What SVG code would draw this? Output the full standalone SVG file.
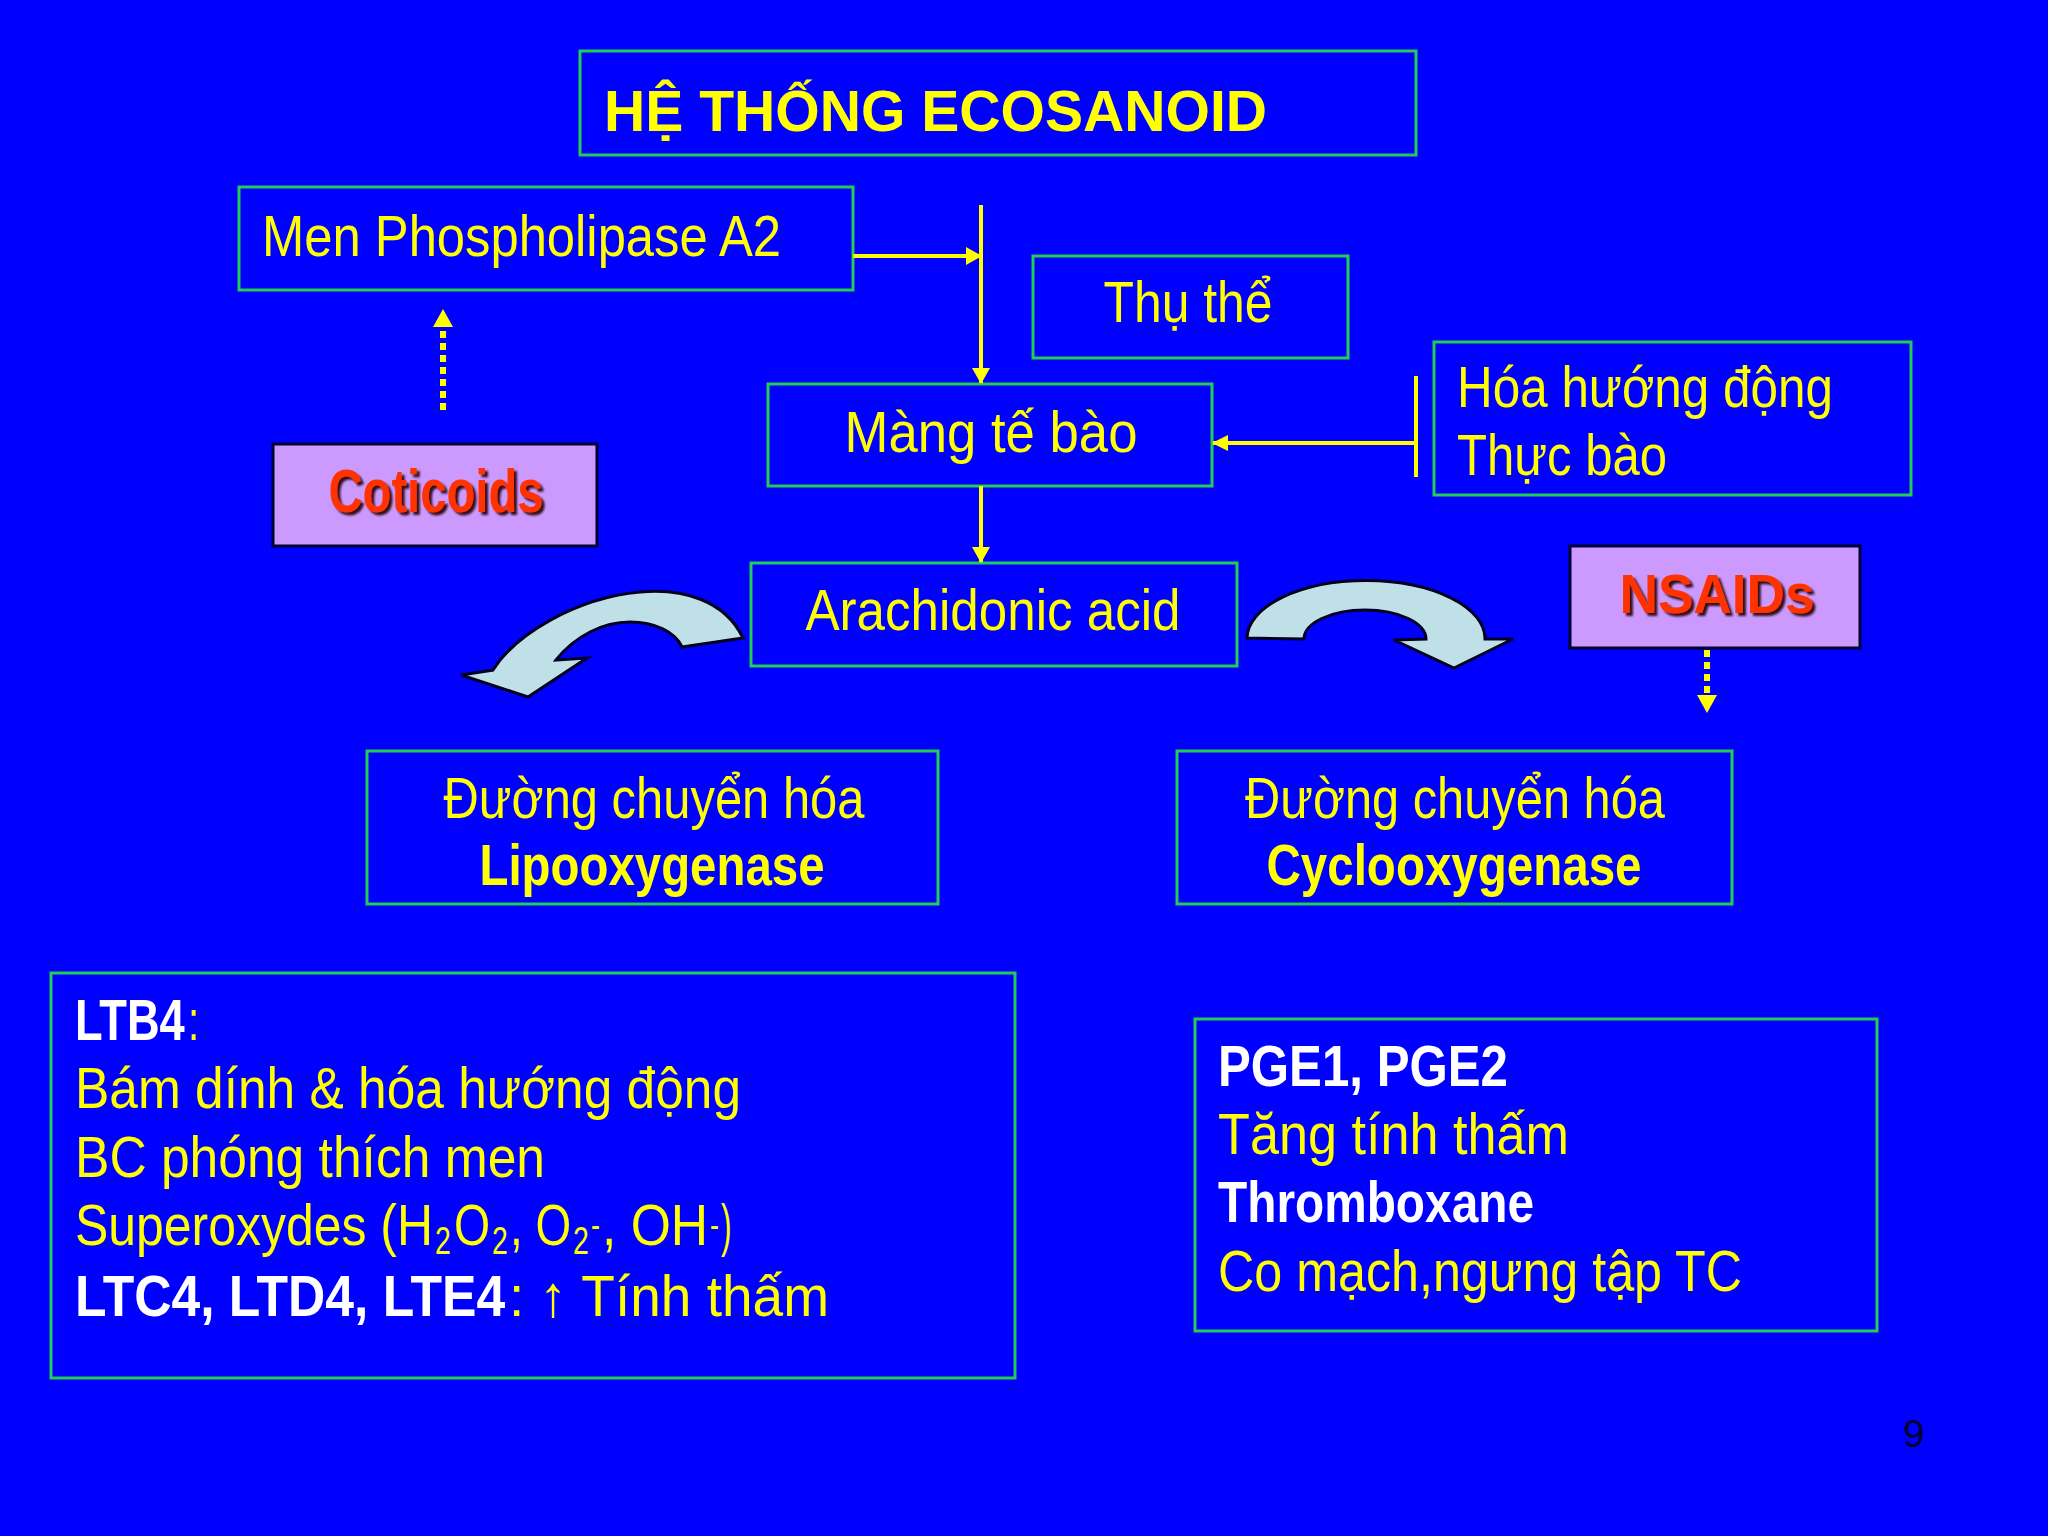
<svg xmlns="http://www.w3.org/2000/svg" width="2048" height="1536" viewBox="0 0 2048 1536">
<defs>
<style>
.box{fill:none;stroke:#22CC55;stroke-width:3}
.lav{fill:#CC99FF;stroke:#000033;stroke-width:3}
.t{font-family:"Liberation Sans",Arial,sans-serif;font-size:58px;fill:#FFFF00}
.b{font-weight:bold}
.w{fill:#FFFFFF;font-weight:bold}
.sub{font-size:38px}
.sup{font-size:36px}
.red{font-family:"Liberation Sans",Arial,sans-serif;font-weight:bold;fill:#FF3300}
.conn{stroke:#FFFF00;stroke-width:4;fill:none}
.dot{stroke:#FFFF00;stroke-width:6;fill:none;stroke-dasharray:7 5}
.curve{fill:#BFE0E6;stroke:#000022;stroke-width:3;stroke-linejoin:miter}
</style>
<marker id="ah" viewBox="0 0 16 18" refX="15" refY="9" markerWidth="16" markerHeight="18" markerUnits="userSpaceOnUse" orient="auto">
<path d="M0,0 L16,9 L0,18 Z" fill="#FFFF00"/>
</marker>
<marker id="ahs" viewBox="0 0 16 16" refX="15" refY="8" markerWidth="16" markerHeight="16" markerUnits="userSpaceOnUse" orient="auto">
<path d="M0,0 L16,8 L0,16 Z" fill="#FFFF00"/>
</marker>
<marker id="ahd" viewBox="0 0 18 20" refX="2" refY="10" markerWidth="18" markerHeight="20" markerUnits="userSpaceOnUse" orient="auto">
<path d="M0,0 L18,10 L0,20 Z" fill="#FFFF00"/>
</marker>
<filter id="sh" x="-10%" y="-10%" width="130%" height="140%">
<feDropShadow dx="3" dy="3" stdDeviation="0.8" flood-color="#220000" flood-opacity="0.9"/>
</filter>
</defs>
<rect x="0" y="0" width="2048" height="1536" fill="#0000FF"/>

<g id="title">
<rect class="box" x="580" y="51" width="836" height="104"/>
<text class="t b" x="604" y="131" font-size="74" textLength="663" lengthAdjust="spacingAndGlyphs">HỆ THỐNG ECOSANOID</text>
</g>

<g id="phospholipase">
<rect class="box" x="239" y="187" width="614" height="103"/>
<text class="t" x="262" y="256" font-size="61" textLength="519" lengthAdjust="spacingAndGlyphs">Men Phospholipase A2</text>
</g>

<g id="thu-the">
<rect class="box" x="1033" y="256" width="315" height="102"/>
<text class="t" x="1188" y="322" text-anchor="middle" textLength="169" lengthAdjust="spacingAndGlyphs">Thụ thể</text>
</g>

<g id="mang-te-bao">
<rect class="box" x="768" y="384" width="444" height="102"/>
<text class="t" x="991" y="452" text-anchor="middle" textLength="293" lengthAdjust="spacingAndGlyphs">Màng tế bào</text>
</g>

<g id="hoa-huong-dong">
<rect class="box" x="1434" y="342" width="477" height="153"/>
<text class="t" x="1457" y="407" textLength="376" lengthAdjust="spacingAndGlyphs">Hóa hướng động</text>
<text class="t" x="1457" y="475" textLength="210" lengthAdjust="spacingAndGlyphs">Thực bào</text>
</g>

<g id="coticoids">
<rect class="lav" x="273" y="444" width="324" height="102"/>
<text class="red" x="436" y="512" font-size="61" text-anchor="middle" textLength="215" lengthAdjust="spacingAndGlyphs" filter="url(#sh)">Coticoids</text>
</g>

<g id="arachidonic">
<rect class="box" x="751" y="563" width="486" height="103"/>
<text class="t" x="993" y="630" text-anchor="middle" textLength="375" lengthAdjust="spacingAndGlyphs">Arachidonic acid</text>
</g>

<g id="nsaids">
<rect class="lav" x="1570" y="546" width="290" height="102"/>
<text class="red" x="1717" y="613" font-size="56" text-anchor="middle" textLength="195" lengthAdjust="spacingAndGlyphs" filter="url(#sh)">NSAIDs</text>
</g>

<g id="lipooxygenase">
<rect class="box" x="367" y="751" width="571" height="153"/>
<text class="t" x="654" y="818" text-anchor="middle" textLength="421" lengthAdjust="spacingAndGlyphs">Đường chuyển hóa</text>
<text class="t b" x="652" y="885" text-anchor="middle" textLength="345" lengthAdjust="spacingAndGlyphs">Lipooxygenase</text>
</g>

<g id="cyclooxygenase">
<rect class="box" x="1177" y="751" width="555" height="153"/>
<text class="t" x="1455" y="818" text-anchor="middle" textLength="420" lengthAdjust="spacingAndGlyphs">Đường chuyển hóa</text>
<text class="t b" x="1454" y="885" text-anchor="middle" textLength="375" lengthAdjust="spacingAndGlyphs">Cyclooxygenase</text>
</g>

<g id="ltb4">
<rect class="box" x="51" y="973" width="964" height="405"/>
<text class="t w" transform="translate(75,1040) scale(0.78,1)">LTB4</text>
<text class="t" transform="translate(188,1040) scale(0.7,1)">:</text>
<text class="t" x="75" y="1108" textLength="666" lengthAdjust="spacingAndGlyphs">Bám dính &amp; hóa hướng động</text>
<text class="t" x="75" y="1177" textLength="470" lengthAdjust="spacingAndGlyphs">BC phóng thích men</text>
<text class="t" transform="translate(75,1245) scale(0.861,1)">Superoxydes (H</text>
<text class="t sub" transform="translate(435,1254) scale(0.75,1)">2</text>
<text class="t" transform="translate(454,1245) scale(0.8,1)">O</text>
<text class="t sub" transform="translate(492,1254) scale(0.75,1)">2</text>
<text class="t" transform="translate(510,1245) scale(0.79,1)">, O</text>
<text class="t sub" transform="translate(573,1254) scale(0.75,1)">2</text>
<text class="t sup" transform="translate(591,1237) scale(0.75,1)">-</text>
<text class="t" transform="translate(602,1245) scale(0.89,1)">, OH</text>
<text class="t sup" transform="translate(710,1237) scale(0.75,1)">-</text>
<text class="t" transform="translate(721,1245) scale(0.55,1)">)</text>
<text class="t w" transform="translate(75,1316) scale(0.89,1)">LTC4, LTD4, LTE4</text>
<text class="t" x="509" y="1316" textLength="320" lengthAdjust="spacingAndGlyphs">: ↑ Tính thấm</text>
</g>

<g id="pge">
<rect class="box" x="1195" y="1019" width="682" height="312"/>
<text class="t w" x="1218" y="1086" textLength="290" lengthAdjust="spacingAndGlyphs">PGE1,  PGE2</text>
<text class="t" x="1218" y="1154" textLength="351" lengthAdjust="spacingAndGlyphs">Tăng tính thấm</text>
<text class="t w" x="1218" y="1222" textLength="316" lengthAdjust="spacingAndGlyphs">Thromboxane</text>
<text class="t" x="1218" y="1291" textLength="524" lengthAdjust="spacingAndGlyphs">Co mạch,ngưng tập TC</text>
</g>

<g id="connectors">
<line class="conn" x1="981" y1="205" x2="981" y2="383" marker-end="url(#ah)"/>
<line class="conn" x1="853" y1="256" x2="981" y2="256" marker-end="url(#ah)"/>
<line class="conn" x1="981" y1="486" x2="981" y2="562" marker-end="url(#ah)"/>
<line class="conn" x1="1416" y1="443" x2="1213" y2="443" marker-end="url(#ahs)"/>
<line class="conn" x1="1416" y1="376" x2="1416" y2="477" stroke-width="5"/>
<line class="dot" x1="443" y1="410" x2="443" y2="325" marker-end="url(#ahd)"/>
<line class="dot" x1="1707" y1="650" x2="1707" y2="697" marker-end="url(#ahd)"/>
<path class="curve" d="M 743,638 C 725,600 682,588 640,592 C 575,598 515,635 493,670 L 461,675 L 528,697 L 587,658 L 556,660 C 575,636 603,622 630,622 C 655,622 675,632 682,647 Z"/>
<path class="curve" d="M 1247,638 A 119 58 0 0 1 1485,639 L 1513,639 L 1454,668 L 1394,640 L 1426,639 A 61 29 0 0 0 1304,639 Z"/>
</g>

<text x="1903" y="1447" font-family="Liberation Sans,Arial,sans-serif" font-size="39" fill="#000033">9</text>
</svg>
